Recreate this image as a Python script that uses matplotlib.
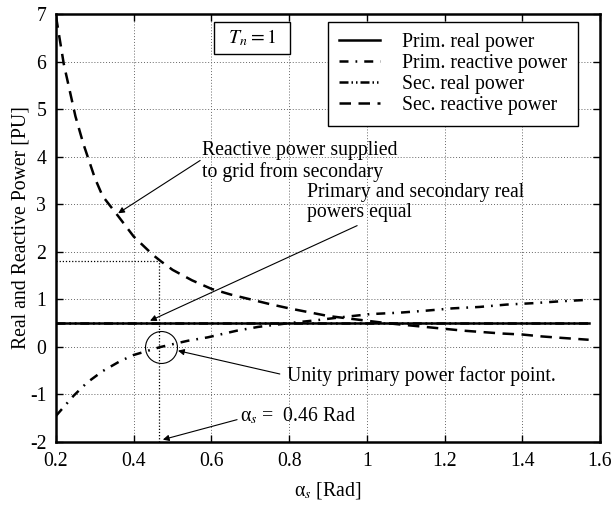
import matplotlib
matplotlib.use("Agg")
import matplotlib.pyplot as plt
import numpy as np

plt.rcParams['font.family'] = ['Liberation Serif', 'DejaVu Serif']
plt.rcParams['mathtext.fontset'] = 'stix'
plt.rcParams['axes.unicode_minus'] = False

# ---- data ----
x_range = [0.2, 1.5708]
prim_real = [0.5, 0.5]
sec_real = [0.5, 0.5]

x_q_sec = [0.20, 0.22, 0.25, 0.27, 0.30, 0.32, 0.36, 0.40, 0.45, 0.47, 0.50,
           0.55, 0.60, 0.65, 0.70, 0.75, 0.80, 0.85, 0.90, 0.95, 1.00, 1.05,
           1.10, 1.15, 1.20, 1.25, 1.30, 1.35, 1.40, 1.45, 1.50, 1.5708]
q_sec = [6.95, 5.95, 4.85, 4.28, 3.55, 3.17, 2.75, 2.32, 1.93, 1.80, 1.62,
         1.40, 1.22, 1.10, 1.00, 0.90, 0.81, 0.73, 0.65, 0.60, 0.55, 0.50,
         0.46, 0.42, 0.38, 0.34, 0.31, 0.28, 0.26, 0.22, 0.19, 0.15]

x_q_prim = [0.20, 0.245, 0.28, 0.32, 0.365, 0.40, 0.47, 0.54, 0.59, 0.665,
            0.72, 0.80, 0.87, 0.93, 1.01, 1.085, 1.15, 1.22, 1.29, 1.36,
            1.43, 1.50, 1.5708]
q_prim = [-1.45, -1.03, -0.75, -0.51, -0.30, -0.17, 0.0, 0.13, 0.20, 0.34,
          0.42, 0.50, 0.56, 0.62, 0.69, 0.72, 0.76, 0.81, 0.84, 0.89,
          0.92, 0.96, 0.99]

x_ticks = [0.2, 0.4, 0.6, 0.8, 1.0, 1.2, 1.4, 1.6]
x_ticklabels = ['0.2', '0.4', '0.6', '0.8', '1', '1.2', '1.4', '1.6']
y_ticks = [-2, -1, 0, 1, 2, 3, 4, 5, 6, 7]
y_ticklabels = ['-2', '-1', '0', '1', '2', '3', '4', '5', '6', '7']

alpha_unity = 0.465
q_at_unity = 1.8

FS = 14.2
fig = plt.figure(figsize=(6.13, 5.07), dpi=100)
ax = fig.add_axes([56/613, 65/507, 544/613, 428/507])

lw = 1.8
ax.plot(x_range, sec_real, color='k', lw=lw, dashes=(3.6, 1.5, 0.7, 1.5, 0.7, 1.5),
        label='_sec', zorder=3)
l1, = ax.plot(x_range, prim_real, color='k', lw=lw, zorder=4)
l2, = ax.plot(x_q_prim, q_prim, color='k', lw=lw, dashes=(3.6, 2.8, 0.7, 2.8), zorder=4)
l4, = ax.plot(x_q_sec, q_sec, color='k', lw=lw, dashes=(4.6, 3.0), zorder=4)
l3 = matplotlib.lines.Line2D([], [], color='k', lw=lw, dashes=(3.6, 1.2, 0.6, 1.2, 0.6, 1.2))

ax.set_xlim(0.2, 1.6)
ax.set_ylim(-2, 7)
ax.set_xticks(x_ticks)
ax.set_xticklabels(x_ticklabels, fontsize=FS)
ax.set_yticks(y_ticks)
ax.set_yticklabels(y_ticklabels, fontsize=FS)
ax.tick_params(direction='in', top=True, right=True, length=5, width=1, pad=7)
ax.grid(True, linestyle=(0, (1, 2)), color='0.4', lw=0.7)
for s in ax.spines.values():
    s.set_linewidth(1.8)

ax.set_xlabel('α$_s$ [Rad]', fontsize=FS, labelpad=7)
ax.set_ylabel('Real and Reactive Power [PU]', fontsize=FS, labelpad=-0.5)

leg = ax.legend([l1, l2, l3, l4],
                ['Prim. real power', 'Prim. reactive power', 'Sec. real power',
                 'Sec. reactive power'],
                loc='upper right', bbox_to_anchor=(0.96, 0.981), borderaxespad=0,
                fontsize=FS, handlelength=2.1, handletextpad=1.1, labelspacing=0.1,
                borderpad=0.55, fancybox=False, framealpha=1)
leg.get_frame().set_edgecolor('k')
leg.get_frame().set_linewidth(1.0)

# T_n box
ax.text(0.704, 6.5, '  $T_n = 1$  ', fontsize=FS, ha='center', va='center',
        bbox=dict(boxstyle='square,pad=0.3', fc='white', ec='k', lw=1.0))

arrow = dict(arrowstyle='-|>', lw=0.8, color='k', mutation_scale=9,
             shrinkA=0, shrinkB=0)

ax.annotate('', xy=(0.36, 2.81), xytext=(0.571, 3.92), arrowprops=arrow)
ax.text(0.576, 3.90, 'Reactive power supplied\nto grid from secondary',
        fontsize=FS, ha='left', va='center', linespacing=1.1)

ax.annotate('', xy=(0.442, 0.55), xytext=(0.975, 2.55), arrowprops=arrow)
ax.text(0.846, 3.04, 'Primary and secondary real\npowers equal',
        fontsize=FS, ha='left', va='center', linespacing=1.1)

ax.plot([0.47], [0.0], marker='o', ms=23, mfc='none', mec='k', mew=0.8, zorder=5)
ax.annotate('', xy=(0.514, -0.08), xytext=(0.776, -0.57), arrowprops=arrow)
ax.text(0.794, -0.61, 'Unity primary power factor point.', fontsize=FS,
        ha='left', va='center')

ax.plot([0.2, alpha_unity], [q_at_unity, q_at_unity], color='k', lw=0.9,
        linestyle=(0, (1, 1.5)), zorder=3)
ax.plot([alpha_unity, alpha_unity], [-2, q_at_unity], color='k', lw=0.9,
        linestyle=(0, (1, 1.5)), zorder=3)
ax.annotate('', xy=(0.475, -1.95), xytext=(0.666, -1.53), arrowprops=arrow)
ax.text(0.673, -1.46, 'α$_s$ =  0.46 Rad', fontsize=FS, ha='left', va='center')

fig.savefig('out.png', dpi=100)
